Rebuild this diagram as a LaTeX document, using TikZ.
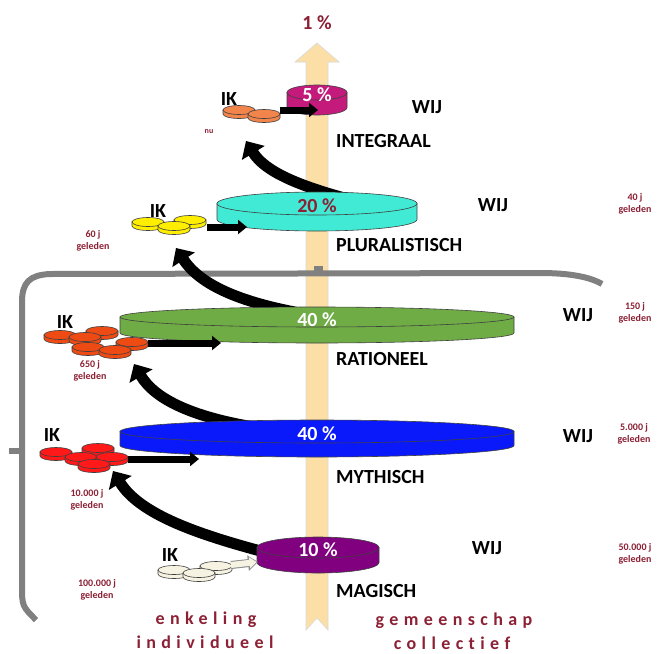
\documentclass[tikz,border=0pt]{standalone}
\usepackage{fontspec}
\setmainfont{Carlito}
\newfontfamily\spaced[LetterSpace=30, Ligatures={NoCommon,NoContextual}]{Carlito}
\usetikzlibrary{arrows.meta}
\definecolor{shaft}{RGB}{251,223,166}
\definecolor{darkred}{RGB}{140,32,52}
\definecolor{bracketgray}{RGB}{128,128,128}
\definecolor{integraal}{RGB}{196,26,124}
\definecolor{pluralist}{RGB}{64,234,212}
\definecolor{rationeel}{RGB}{112,172,70}
\definecolor{mythisch}{RGB}{10,25,250}
\definecolor{magisch}{RGB}{128,0,128}
\definecolor{coinorange}{RGB}{241,133,75}
\definecolor{coinyellow}{RGB}{255,238,0}
\definecolor{coinred}{RGB}{238,75,20}
\definecolor{coinscarlet}{RGB}{255,25,25}
\definecolor{coincream}{RGB}{246,243,226}

% cylinder: x, y (top centre), x radius, y radius, depth, colour
\newcommand{\disk}[6]{%
  \filldraw[fill=#6, draw=black!75, line width=0.6pt]
    (#1-#3,#2) -- (#1-#3,#2+#5)
    arc[start angle=180, end angle=360, x radius=#3pt, y radius=#4pt]
    -- (#1+#3,#2) -- cycle;
  \filldraw[fill=#6, draw=black!75, line width=0.6pt]
    (#1,#2) ellipse[x radius=#3pt, y radius=#4pt];}

\begin{document}
\begin{tikzpicture}[x=1pt, y=-1pt,
  lbl/.style={font=\bfseries\fontsize{20}{24}\selectfont, inner sep=0pt},
  ago/.style={font=\bfseries\fontsize{10}{12}\selectfont, text=darkred, align=center, inner sep=0pt},
  spread/.style={font=\spaced\bfseries\fontsize{18}{22}\selectfont, text=darkred, inner sep=0pt},
  jump/.style={line width=11pt, -{Triangle[width=26pt,length=14pt]}},
  push/.style={line width=7pt, -{Triangle[width=14pt,length=9pt]}},
  bracket/.style={line width=6pt, draw=bracketgray}]
  \useasboundingbox (0,0) rectangle (660,653);
  \fill[white] (0,0) rectangle (660,653);

  \filldraw[fill=shaft, draw=black!15, line width=0.6pt]
    (306,630) -- (306,62) -- (295,62) -- (317,43) -- (339,62)
    -- (328,62) -- (328,630) -- (317,618) -- cycle;

  \draw[bracket] (36,620) .. controls (22,606) .. (22,585) -- (22,302)
    .. controls (22,282) and (30,275) .. (50,274) -- (540,273)
    .. controls (570,273) and (590,277) .. (602,284);
  \draw[bracket] (22,451) -- (9,451);
  \draw[bracket, line width=9pt] (318,274) -- (318,266);

  \coordinate (up20) at (348,199);   \coordinate (tip5) at (246,141);
  \coordinate (up40r) at (300,313);  \coordinate (tip20) at (176,248);
  \coordinate (up40m) at (260,428);  \coordinate (tip40r) at (134,364);
  \coordinate (up10) at (268,553);   \coordinate (tip40m) at (113,471);
  \draw[jump] (up20) .. controls (300,186) and (265,172) .. (tip5);
  \draw[jump] (up40r) .. controls (240,302) and (200,285) .. (tip20);
  \draw[jump] (up40m) .. controls (195,418) and (155,400) .. (tip40r);
  \draw[jump] (up10) .. controls (200,535) and (140,515) .. (tip40m);

  \foreach \nm/\cx/\cy/\rx/\ry/\d/\col/\txt/\tc in {
      p5/317/92.5/30/7.5/15/integraal/5/white,
      p20/317/203.5/100/11.5/16/pluralist/20/darkred,
      p40r/317/317/197/10/16/rationeel/40/white,
      p40m/317/431.5/197/11.5/14/mythisch/40/white,
      p10/318/547.5/61/10.5/15/magisch/10/white} {
    \disk{\cx}{\cy}{\rx}{\ry}{\d}{\col}
    \node[lbl, text=\tc] (\nm) at (\cx,\cy+2.5) {\txt\ \%};
  }

  \foreach \x/\y/\col in {
      239/110/coinorange, 264/114/coinorange,
      190/220/coinyellow, 148/222/coinyellow, 174/226/coinyellow,
      102/331/coinred, 60/335/coinred, 85/337/coinred,
      132/342/coinred, 88/347/coinred, 115/350/coinred,
      98/448/coinscarlet, 56/452/coinscarlet, 81/457/coinscarlet,
      112/457/coinscarlet, 94/464/coinscarlet,
      216/566/coincream, 174/570/coincream, 199/573/coincream} {
    \disk{\x}{\y}{16}{4.5}{4}{\col}
  }

  \coordinate (ik5) at (280,110);   \coordinate (to5) at (318,110);
  \coordinate (ik20) at (207,227);  \coordinate (to20) at (247,227);
  \coordinate (ik40r) at (148,343); \coordinate (to40r) at (221,343);
  \coordinate (ik40m) at (128,459); \coordinate (to40m) at (199,459);
  \coordinate (ik10) at (231,565);  \coordinate (to10) at (258,562);
  \draw[push] (ik5) -- (to5);
  \draw[push] (ik20) -- (to20);
  \draw[push] (ik40r) -- (to40r);
  \draw[push] (ik40m) -- (to40m);
  \draw[push, line width=8pt, black!45, -{Triangle[width=15pt,length=10pt]}] (ik10) -- (to10);
  \draw[push, line width=6pt, coincream, -{Triangle[width=11pt,length=7pt]}] (ik10) -- ([xshift=-1.5pt]to10);

  \node[lbl, text=darkred] (top) at (317,23) {1 \%};
  \foreach \lv/\ix/\iy/\wx/\wy/\ny/\name in {
      integraal/229/99/427/107/141/INTEGRAAL,
      pluralist/158/211/493/205/245/PLURALISTISCH,
      rationeel/65/322/578/315/359/RATIONEEL,
      mythisch/52/435/578/436/477/MYTHISCH,
      magisch/170/555/487/548/591/MAGISCH} {
    \node[lbl] (ik-\lv) at (\ix,\iy) {IK};
    \node[lbl] (wij-\lv) at (\wx,\wy) {WIJ};
    \node[lbl, anchor=west] (name-\lv) at (336,\ny) {\name};
  }

  \node[ago, font=\bfseries\fontsize{8}{10}\selectfont] (now) at (209,132) {nu};
  \node[ago] (ago60) at (93,241) {60 j\\geleden};
  \node[ago] (ago40) at (635,204) {40 j\\geleden};
  \node[ago] (ago150) at (635,313) {150 j\\geleden};
  \node[ago] (ago650) at (90,371) {650 j\\geleden};
  \node[ago] (ago5k) at (634,434) {5.000 j\\geleden};
  \node[ago] (ago10k) at (87,500) {10.000 j\\geleden};
  \node[ago] (ago50k) at (635,554) {50.000 j\\geleden};
  \node[ago] (ago100k) at (97,590) {100.000 j\\geleden};

  \node[spread] (enkeling) at (206,620) {enkeling};
  \node[spread] (individu) at (205,642) {individueel};
  \node[spread] (gemeenschap) at (454,621) {gemeenschap};
  \node[spread] (collectief) at (452,643) {collectief};
\end{tikzpicture}
\end{document}
